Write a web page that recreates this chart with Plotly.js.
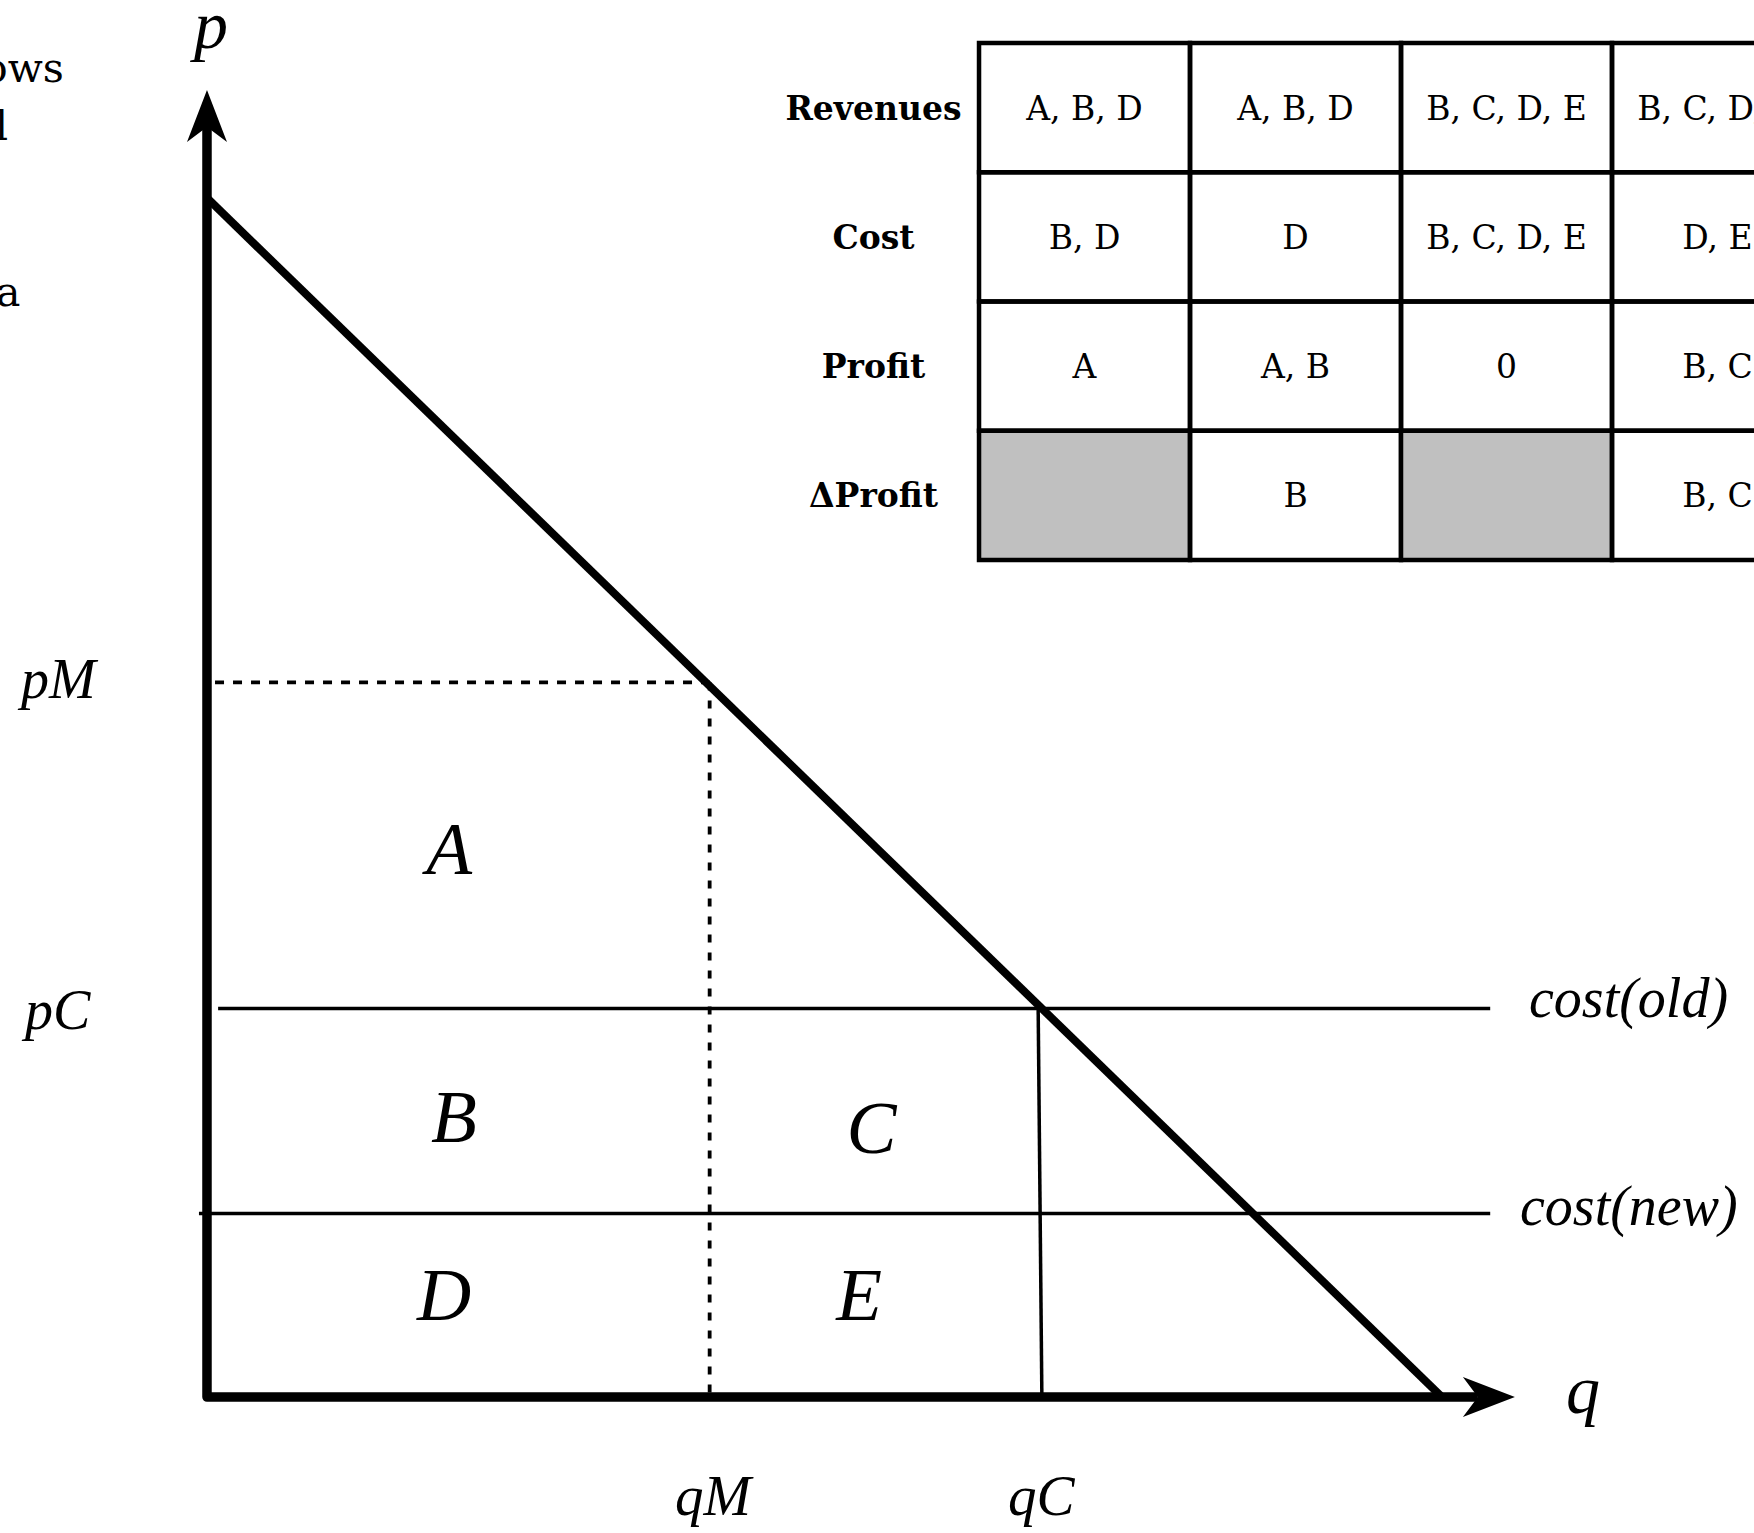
<!DOCTYPE html>
<html>
<head>
<meta charset="utf-8">
<script src="https://cdn.plot.ly/plotly-3.0.1.min.js"></script>
<style>
html,body{margin:0;padding:0;background:#fff;}
#chart{width:1754px;height:1533px;}
.scatterlayer path.js-line{stroke-linejoin:round;}
</style>
</head>
<body>
<div id="chart"></div>
<script>
// ---------------- DATA (model values, arbitrary units) ----------------
// Linear demand curve: p = 10 - q
const demandQ = [0, 10];
const demandP = [10, 0];
// Monopoly point
const qM = 4.07;
const pM = 5.96;
// Marginal cost levels
const costOld = 3.24;   // also pC
const costNew = 1.53;
// Competitive quantity (line from cost(old) down to the q axis)
const qCTop = 6.73;
const qCBottom = 6.76;
// Extent of axes and horizontal guides
const axisTipQ = 10.59;
const axisTipP = 10.90;
const costOldFromQ = 0.09;
const costNewFromQ = -0.065;
const costLinesToQ = 10.39;
const pMGuideFromQ = 0.065;

// Area labels
const areaLabels = ['A', 'B', 'C', 'D', 'E'];
const areaQ = [1.96, 2.00, 5.38, 1.92, 5.28];
const areaP = [4.52, 2.28, 2.19, 0.80, 0.80];

// Table
const tableRows = ['Revenues', 'Cost', 'Profit', '\u0394Profit'];
const revenuesCells = ['A, B, D', 'A, B, D', 'B, C, D, E', 'B, C, D, E'];
const costCells = ['B, D', 'D', 'B, C, D, E', 'D, E'];
const profitCells = ['A', 'A, B', '0', 'B, C'];
const deltaProfitCells = [null, 'B', null, 'B, C'];   // null = shaded (not applicable)

// ---------------- LAYOUT HELPERS ----------------
const W = 1754, H = 1533;
const xRange = [-1.676, 12.526];
const yRange = [-1.134, 11.651];
const pxPerQ = W / (xRange[1] - xRange[0]);
const pxPerP = H / (yRange[1] - yRange[0]);
const colRange = [-4.64, 3.673];
const rowRange = [11.53, -0.333];
const textDrop = 0.03;   // small downward nudge of table text (rows)

const headLen = 52, headHalf = 20, headNotch = 15;  // px
const yHeadLen = headLen / pxPerP, yHeadHalf = headHalf / pxPerQ, yHeadNotch = headNotch / pxPerP;
const xHeadLen = headLen / pxPerQ, xHeadHalf = headHalf / pxPerP, xHeadNotch = headNotch / pxPerQ;

const black = '#000000';
const traces = [];

// guides
traces.push({x: [pMGuideFromQ, qM], y: [pM, pM], mode: 'lines', line: {color: black, width: 3.8, dash: '9px,9px'}, xaxis: 'x', yaxis: 'y'});
traces.push({x: [qM, qM], y: [pM, 0], mode: 'lines', line: {color: black, width: 3.8, dash: '8px,10px'}, xaxis: 'x', yaxis: 'y'});
traces.push({x: [costOldFromQ, costLinesToQ], y: [costOld, costOld], mode: 'lines', line: {color: black, width: 3.5}, xaxis: 'x', yaxis: 'y'});
traces.push({x: [costNewFromQ, costLinesToQ], y: [costNew, costNew], mode: 'lines', line: {color: black, width: 3.5}, xaxis: 'x', yaxis: 'y'});
traces.push({x: [qCTop, qCBottom], y: [costOld, 0], mode: 'lines', line: {color: black, width: 3.5}, xaxis: 'x', yaxis: 'y'});
// demand
traces.push({x: demandQ, y: demandP, mode: 'lines', line: {color: black, width: 8}, xaxis: 'x', yaxis: 'y'});
// axes
traces.push({x: [0, 0, axisTipQ - xHeadLen + xHeadNotch], y: [axisTipP - yHeadLen + yHeadNotch, 0, 0], mode: 'lines', line: {color: black, width: 9.5}, xaxis: 'x', yaxis: 'y'});
// area labels
traces.push({x: areaQ, y: areaP, text: areaLabels, mode: 'text', textposition: 'middle center',
  textfont: {family: 'Liberation Serif', size: 75, style: 'italic', color: black}, xaxis: 'x', yaxis: 'y'});

// table texts
const tableCols = [revenuesCells, costCells, profitCells, deltaProfitCells];
const lblX = [], lblY = [];
tableRows.forEach((r, i) => { lblX.push(-0.5); lblY.push(i + 0.5 + textDrop); });
traces.push({x: lblX, y: lblY, text: tableRows, mode: 'text', textposition: 'middle center',
  textfont: {family: 'DejaVu Serif', size: 33, weight: 'bold', color: black}, xaxis: 'x2', yaxis: 'y2'});
const cX = [], cY = [], cT = [];
tableCols.forEach((row, r) => row.forEach((v, c) => { if (v !== null) { cX.push(c + 0.5); cY.push(r + 0.5 + textDrop); cT.push(v); } }));
traces.push({x: cX, y: cY, text: cT, mode: 'text', textposition: 'middle center',
  textfont: {family: 'DejaVu Serif', size: 33, color: black}, xaxis: 'x2', yaxis: 'y2'});

// shapes
const shapes = [];
tableCols.forEach((row, r) => row.forEach((v, c) => {
  shapes.push({type: 'rect', xref: 'x2', yref: 'y2', x0: c, x1: c + 1, y0: r, y1: r + 1, layer: 'below',
    fillcolor: v === null ? '#c0c0c0' : 'rgba(0,0,0,0)', line: {color: black, width: 4.5}});
}));
// arrow heads
shapes.push({type: 'path', xref: 'x', yref: 'y', fillcolor: black, line: {width: 0},
  path: `M 0,${axisTipP} L ${-yHeadHalf},${axisTipP - yHeadLen} L 0,${axisTipP - yHeadLen + yHeadNotch} L ${yHeadHalf},${axisTipP - yHeadLen} Z`});
shapes.push({type: 'path', xref: 'x', yref: 'y', fillcolor: black, line: {width: 0},
  path: `M ${axisTipQ},0 L ${axisTipQ - xHeadLen},${xHeadHalf} L ${axisTipQ - xHeadLen + xHeadNotch},0 L ${axisTipQ - xHeadLen},${-xHeadHalf} Z`});

const italic = (size) => ({family: 'Liberation Serif', size: size, style: 'italic', color: black});
const annotations = [
  {text: 'p', x: 0.02, y: 11.44, font: italic(68)},
  {text: 'q', x: 11.14, y: 0.06, font: italic(68)},
  {text: 'pM', x: -1.21, y: 5.99, font: italic(56)},
  {text: 'pC', x: -1.22, y: 3.23, font: italic(56)},
  {text: 'qM', x: 4.11, y: -0.82, font: italic(57)},
  {text: 'qC', x: 6.76, y: -0.82, font: italic(57)},
  {text: 'cost(old)', x: 11.51, y: 3.32, font: italic(56)},
  {text: 'cost(new)', x: 11.51, y: 1.59, font: italic(56)}
].map(a => Object.assign({xref: 'x', yref: 'y', showarrow: false, xanchor: 'center', yanchor: 'middle'}, a));
// fragments of neighbouring text cut by the left edge
const fragFont = {family: 'DejaVu Serif', size: 41, color: black};
[['ows', 66, 68], ['l', 10, 126], ['a', 22, 292]].forEach(f => {
  annotations.push({text: f[0], xref: 'paper', yref: 'paper', x: f[1] / W, y: 1 - f[2] / H,
    xanchor: 'right', yanchor: 'middle', showarrow: false, font: fragFont});
});

const hidden = {showgrid: false, zeroline: false, showticklabels: false, showline: false, ticks: '', fixedrange: true};
const layout = {
  width: W, height: H, margin: {l: 0, r: 0, t: 0, b: 0, pad: 0},
  paper_bgcolor: '#ffffff', plot_bgcolor: 'rgba(0,0,0,0)',
  showlegend: false, hovermode: false,
  xaxis: Object.assign({range: xRange, domain: [0, 1]}, hidden),
  yaxis: Object.assign({range: yRange, domain: [0, 1]}, hidden),
  xaxis2: Object.assign({range: colRange, overlaying: 'x', anchor: 'y2'}, hidden),
  yaxis2: Object.assign({range: rowRange, overlaying: 'y', anchor: 'x2'}, hidden),
  shapes: shapes,
  annotations: annotations
};
Plotly.newPlot('chart', traces, layout, {staticPlot: true, displayModeBar: false});
</script>
</body>
</html>
